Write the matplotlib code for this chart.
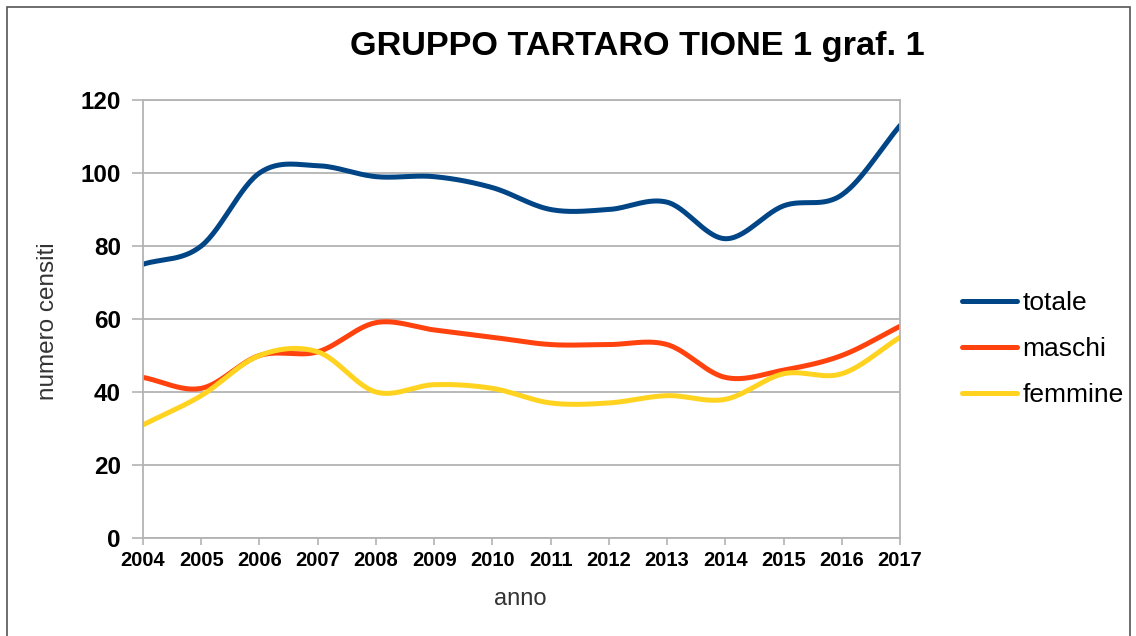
import numpy as np
import matplotlib
matplotlib.use("Agg")
import matplotlib.pyplot as plt
from matplotlib.patches import Rectangle

plt.rcParams['font.family'] = ['Liberation Sans', 'DejaVu Sans']

anni = [2004, 2005, 2006, 2007, 2008, 2009, 2010, 2011, 2012, 2013, 2014, 2015, 2016, 2017]
totale = [75, 80, 100, 102, 99, 99, 96, 90, 90, 92, 82, 91, 94, 113]
maschi = [44, 41, 50, 51, 59, 57, 55, 53, 53, 53, 44, 46, 50, 58]
femmine = [31, 39, 50, 51, 40, 42, 41, 37, 37, 39, 38, 45, 45, 55]

serie = [("totale", totale, "#004586"),
         ("maschi", maschi, "#ff420e"),
         ("femmine", femmine, "#ffd320")]


def smooth(x, y, n=30):
    # Catmull-Rom curve through the points, only for drawing the smoothed line
    x = np.asarray(x, float)
    y = np.asarray(y, float)
    k = len(x)
    m = np.zeros(k)
    m[1:-1] = (y[2:] - y[:-2]) / (x[2:] - x[:-2])
    m[0] = (y[1] - y[0]) / (x[1] - x[0])
    m[-1] = (y[-1] - y[-2]) / (x[-1] - x[-2])
    xs, ys = [], []
    for i in range(k - 1):
        h = x[i + 1] - x[i]
        t = np.linspace(0, 1, n, endpoint=(i == k - 2))
        h00 = 2 * t**3 - 3 * t**2 + 1
        h10 = t**3 - 2 * t**2 + t
        h01 = -2 * t**3 + 3 * t**2
        h11 = t**3 - t**2
        xs.append(x[i] + t * h)
        ys.append(h00 * y[i] + h10 * h * m[i] + h01 * y[i + 1] + h11 * h * m[i + 1])
    return np.concatenate(xs), np.concatenate(ys)


W, H = 1136, 636
fig = plt.figure(figsize=(W / 100, H / 100), dpi=100)
fig.patches.append(Rectangle((7 / W, -0.05), 1123 / W, 1 - 7 / H + 0.05,
                             transform=fig.transFigure, fill=False,
                             edgecolor="#555555", linewidth=1.2))

ax = fig.add_axes([143 / W, 1 - 538 / H, 757 / W, 438 / H])
for nome, val, col in serie:
    xs, ys = smooth(anni, val)
    ax.plot(xs, ys, color=col, linewidth=3.6, label=nome, solid_capstyle="round")

ax.set_xlim(anni[0], anni[-1])
ax.set_ylim(0, 120)
ax.set_xticks(anni)
ax.set_yticks(range(0, 121, 20))
ax.tick_params(axis="x", length=5, width=1.2, color="#b3b3b3", pad=4, labelsize=14.5)
ax.tick_params(axis="y", length=8, width=1.2, color="#b3b3b3", pad=8, labelsize=17.5)
for lab in ax.get_xticklabels() + ax.get_yticklabels():
    lab.set_fontweight("bold")
ax.grid(axis="y", color="#b3b3b3", linewidth=1.3)
ax.set_axisbelow(True)
for s in ax.spines.values():
    s.set_color("#b3b3b3")
    s.set_linewidth(1.3)

# axis titles
fig.text(520 / W, 1 - 599 / H, "anno", fontsize=17, color="#333333",
         ha="center", va="center")
fig.text(48 / W, 1 - 321 / H, "numero censiti", fontsize=17.5, color="#333333",
         ha="center", va="center", rotation=90)
fig.text(637 / W, 1 - 47 / H, "GRUPPO TARTARO TIONE 1 graf. 1",
         fontsize=24.7, fontweight="bold", ha="center", va="center")

ax.legend(loc="center left", bbox_to_anchor=((962 - 143) / 757, (538 - 349) / 438),
          frameon=False, fontsize=19, handlelength=2.1, handletextpad=0.2,
          labelspacing=0.84, borderaxespad=0, borderpad=0)

fig.savefig("out.png", dpi=100)
